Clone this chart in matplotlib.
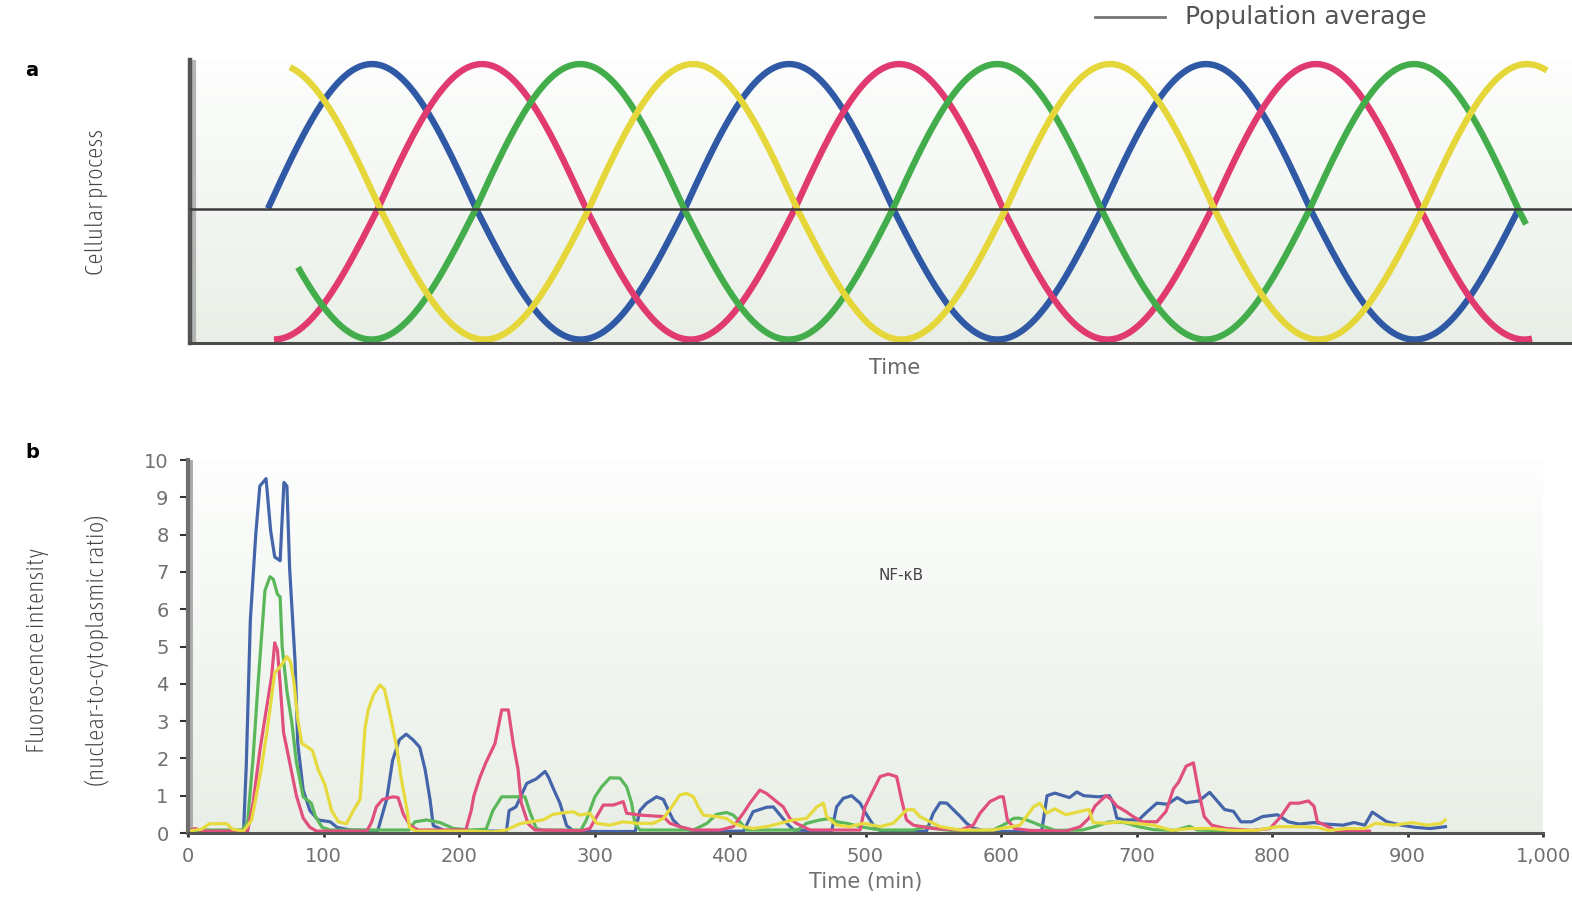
import numpy as np
import matplotlib
matplotlib.use("Agg")
import matplotlib.pyplot as plt
from matplotlib import font_manager as fm
from matplotlib.colors import LinearSegmentedColormap

# pick a condensed face for the axis titles if one is installed
cond = [f for f in fm.fontManager.ttflist
        if ('Condensed' in f.fname or 'Narrow' in f.fname) and 'Bold' not in f.fname
        and 'Italic' not in f.fname and 'Oblique' not in f.fname]
cond.sort(key=lambda f: ('Light' not in f.fname, 'ExtraCondensed' in f.fname, f.fname))
narrow = fm.FontProperties(fname=cond[0].fname) if cond else fm.FontProperties(family='DejaVu Sans')

# ---- panel a: schematic oscillations (time units are arbitrary) ----
period_a = 417
trough_a = 0.9
# start, end, time of first peak
blue_a = (78, 1329, 182)
red_a = (84, 1342, 292)
green_a = (108, 1336, 390)
yellow_a = (100, 1357, 86)

# ---- panel b: NF-kB traces, (time in min, nuclear/cytoplasmic ratio) ----
blue_b = [(0, 0.05), (20, 0.05), (41, 0.05), (43, 1.8), (46, 5.7), (50, 8.0), (53, 9.3), (57.6, 9.5),
          (61, 8.1), (64, 7.4), (68, 7.3), (70.8, 9.4), (73, 9.3), (75, 7.1), (79, 4.6), (81, 2.4),
          (85, 1.15), (90, 0.6), (96, 0.35), (105, 0.3), (110, 0.15), (120, 0.08), (140, 0.06),
          (146.6, 0.9), (151, 1.95), (156, 2.5), (161, 2.65), (166, 2.5), (171, 2.3), (175, 1.7),
          (178.6, 0.9), (181, 0.2), (190, 0.05), (235, 0.05), (237, 0.6), (242, 0.7), (250, 1.33),
          (257, 1.45), (263.5, 1.65), (266, 1.5), (269.5, 1.2), (274.5, 0.8), (279.4, 0.2), (285, 0.04),
          (330, 0.04), (333.5, 0.6), (338.5, 0.8), (345.8, 0.97), (350.8, 0.9), (354.4, 0.62),
          (358, 0.35), (363, 0.17), (373, 0.04), (410, 0.05), (417, 0.57), (427, 0.69), (432, 0.7),
          (437, 0.48), (442, 0.26), (447, 0.08), (475, 0.05), (478.7, 0.7), (483.6, 0.93),
          (489.7, 1.0), (496, 0.8), (501, 0.48), (506, 0.2), (512, 0.04), (545, 0.05), (550, 0.53),
          (555, 0.81), (560, 0.8), (565, 0.62), (570, 0.44), (574.6, 0.26), (579.5, 0.13), (590, 0.04),
          (630, 0.04), (634, 1.0), (639.7, 1.07), (650.5, 0.95), (656, 1.1), (661, 1.0), (672, 0.97),
          (680, 1.0), (682.8, 0.8), (685.5, 0.4), (691, 0.35), (701.6, 0.35), (707, 0.54), (715, 0.8),
          (723, 0.77), (730, 0.95), (736.6, 0.81), (746, 0.86), (754, 1.09), (759.5, 0.86),
          (765, 0.63), (771.6, 0.58), (777, 0.3), (785, 0.3), (793, 0.44), (804, 0.49), (812, 0.3),
          (820, 0.24), (831, 0.28), (839, 0.24), (852.4, 0.21), (860.5, 0.28), (868.5, 0.21),
          (874, 0.56), (879, 0.44), (884.7, 0.3), (895.5, 0.21), (906, 0.15), (917, 0.12), (928, 0.17)]

green_b = [(0, 0.08), (40, 0.08), (44, 0.3), (48, 2.0), (51.7, 4.0), (56.8, 6.5), (60.5, 6.87), (63, 6.8),
           (66, 6.4), (68, 6.33), (69.5, 5.0), (73, 3.8), (76.5, 3.0), (80, 1.9), (85, 0.97), (91, 0.8),
           (94, 0.45), (99, 0.15), (105, 0.08), (163, 0.08), (167.5, 0.3), (176, 0.35), (186, 0.28),
           (196, 0.12), (208, 0.08), (220, 0.1), (225, 0.6), (231.5, 0.97), (240, 0.97), (248.7, 0.97),
           (252, 0.6), (257, 0.12), (262, 0.08), (290, 0.08), (294, 0.35), (300.3, 0.97), (305.3, 1.24),
           (311.4, 1.48), (318.8, 1.47), (323.7, 1.24), (327.4, 0.8), (329.8, 0.26), (333.5, 0.08),
           (373, 0.08), (383, 0.26), (390, 0.5), (397.5, 0.55), (402.4, 0.48), (407.3, 0.3),
           (412.3, 0.08), (450, 0.08), (456.5, 0.26), (466.4, 0.35), (473.8, 0.39), (478.7, 0.3),
           (486, 0.26), (496, 0.17), (510.7, 0.08), (535.3, 0.08), (545, 0.17), (555, 0.1), (570, 0.04),
           (594.3, 0.08), (604, 0.26), (609, 0.39), (613, 0.4), (619, 0.35), (628.7, 0.21), (640, 0.07),
           (660, 0.08), (669.3, 0.17), (680, 0.3), (691, 0.28), (701.6, 0.17), (712.4, 0.09),
           (728.5, 0.07), (739, 0.18), (745, 0.08), (770, 0.05)]

pink_b = [(0, 0.05), (5, 0.12), (12, 0.05), (44, 0.05), (48, 0.8), (53, 2.2), (56, 2.9), (61.7, 4.2),
          (64, 5.1), (66, 4.9), (68, 4.0), (70.5, 2.7), (75, 1.9), (80, 1.0), (85, 0.4), (90, 0.15),
          (95, 0.05), (132, 0.05), (135.6, 0.3), (139, 0.7), (143.6, 0.9), (151.4, 0.97), (155, 0.95),
          (159, 0.5), (164, 0.2), (170, 0.08), (205, 0.08), (209, 0.6), (211, 1.0), (215.5, 1.5),
          (220, 1.9), (226.6, 2.4), (231.5, 3.3), (236.4, 3.3), (240, 2.4), (243.6, 1.7), (246, 0.8),
          (251, 0.25), (256, 0.08), (290, 0.06), (296.6, 0.12), (301.6, 0.44), (306.5, 0.75),
          (313.9, 0.75), (321.2, 0.84), (323.7, 0.53), (333.5, 0.48), (350.8, 0.44), (355.7, 0.26),
          (363, 0.17), (373, 0.08), (392.6, 0.08), (402.4, 0.17), (409.8, 0.53), (414.7, 0.8),
          (422, 1.15), (427, 1.06), (434.4, 0.84), (439.3, 0.7), (444.2, 0.39), (449, 0.26), (459, 0.08),
          (496, 0.08), (499.6, 0.7), (504.5, 1.06), (510.7, 1.51), (516.8, 1.58), (523, 1.51),
          (526.7, 0.88), (530.3, 0.35), (535.3, 0.21), (550, 0.12), (570, 0.08), (579.5, 0.21),
          (584.5, 0.53), (591.8, 0.84), (599, 0.97), (601.7, 0.97), (604.7, 0.35), (610, 0.12),
          (620.8, 0.07), (647.8, 0.05), (658.5, 0.17), (665, 0.4), (669.3, 0.72), (677.4, 1.0),
          (681.4, 0.9), (685.5, 0.72), (692, 0.58), (697.6, 0.44), (704.3, 0.3), (715, 0.3),
          (721.8, 0.58), (727.2, 1.18), (731.2, 1.37), (736.6, 1.79), (742, 1.88), (746, 1.09),
          (750, 0.44), (755.5, 0.21), (766, 0.12), (785, 0.07), (798.5, 0.12), (806.6, 0.44),
          (813.3, 0.8), (820, 0.8), (826.8, 0.86), (831, 0.72), (833.5, 0.3), (839, 0.21), (847, 0.07),
          (872, 0.05)]

yellow_b = [(0, 0.05), (10, 0.1), (16, 0.25), (28.5, 0.25), (33, 0.1), (41, 0.05), (47, 0.35), (54, 1.7),
            (58.6, 2.8), (64, 4.3), (69, 4.5), (73, 4.73), (75.5, 4.6), (78, 4.1), (81, 3.05), (84, 2.4),
            (88.5, 2.3), (92, 2.2), (96, 1.7), (101, 1.3), (106, 0.6), (111, 0.3), (117, 0.25), (122, 0.6),
            (127, 0.9), (130.6, 2.8), (133, 3.3), (136.8, 3.7), (141.7, 3.97), (145, 3.85), (149, 3.2),
            (154, 2.3), (157.4, 1.45), (161, 0.75), (163.5, 0.15), (168, 0.05), (210, 0.05), (225, 0.03),
            (235, 0.08), (245, 0.25), (253, 0.3), (262, 0.35), (269.5, 0.5), (279, 0.55), (284.3, 0.57),
            (289, 0.48), (296.6, 0.53), (301.6, 0.26), (311.4, 0.21), (321.2, 0.3), (331, 0.26),
            (343.4, 0.26), (350.8, 0.39), (357, 0.7), (363, 1.02), (368, 1.06), (373, 0.97), (376.6, 0.7),
            (380.3, 0.48), (390, 0.44), (397.5, 0.39), (402.4, 0.26), (409.8, 0.17), (417, 0.12),
            (427, 0.17), (437, 0.26), (446.7, 0.35), (456.5, 0.39), (464, 0.7), (469, 0.8), (471.3, 0.44),
            (478.7, 0.21), (488.5, 0.17), (498.4, 0.26), (510.7, 0.17), (520.5, 0.26), (530.3, 0.62),
            (535.3, 0.63), (540, 0.44), (545, 0.35), (555, 0.17), (570, 0.08), (594.3, 0.08), (614, 0.21),
            (624, 0.7), (628.7, 0.8), (633.6, 0.53), (639.7, 0.65), (647.8, 0.49), (658.5, 0.58),
            (665, 0.63), (668, 0.28), (677.4, 0.26), (688, 0.3), (699, 0.26), (712.4, 0.21), (726, 0.07),
            (739.3, 0.12), (755.5, 0.12), (770, 0.07), (788, 0.07), (804, 0.17), (820, 0.17),
            (833.5, 0.15), (841.6, 0.07), (855, 0.12), (868.5, 0.12), (876.6, 0.26), (890, 0.21),
            (903.6, 0.28), (914.3, 0.21), (925, 0.26), (927.8, 0.35)]

x_ticks = [0, 100, 200, 300, 400, 500, 600, 700, 800, 900, 1000]
x_labels = ['0', '100', '200', '300', '400', '500', '600', '700', '800', '900', '1,000']
y_ticks = list(range(0, 11))

BLUE, PINK, GREEN, YELLOW = '#2f58a5', '#e03a70', '#42ad4a', '#e5d63a'
BLUE_B, PINK_B, GREEN_B, YELLOW_B = '#4565aa', '#e04f7e', '#5bb85a', '#e6da3e'

W, H = 1572, 897
fig = plt.figure(figsize=(W / 100, H / 100), dpi=100)


def box(l, t, r, b):
    return [l / W, 1 - b / H, (r - l) / W, (b - t) / H]


bg = LinearSegmentedColormap.from_list('bg', ['#fdfefd', '#e9efe7'])


def gradient(ax, x0, x1, y0, y1):
    ax.imshow(np.linspace(0, 1, 256)[:, None], extent=(x0, x1, y0, y1), origin='upper',
              aspect='auto', cmap=bg, zorder=0, interpolation='bicubic')
    ax.set_xlim(x0, x1)
    ax.set_ylim(y0, y1)


# ---------------- panel a ----------------
axa = fig.add_axes(box(190, 60, 1572, 343))
gradient(axa, 0, 1382, -0.924, 1.028)
for (start, end, peak), col in [(blue_a, BLUE), (red_a, PINK), (green_a, GREEN), (yellow_a, YELLOW)]:
    t = np.linspace(start, end, 800)
    y = np.cos(2 * np.pi * (t - peak) / period_a)
    y = np.where(y < 0, y * trough_a, y)
    axa.plot(t, y, color=col, lw=4.6, solid_capstyle='butt', zorder=2)
axa.axhline(0, color='#3c3c3c', lw=1.8, zorder=3)
axa.set_xticks([])
axa.set_yticks([])
for s in ['top', 'right']:
    axa.spines[s].set_visible(False)
axa.spines['left'].set_color('#555555')
axa.spines['left'].set_linewidth(3.2)
axa.spines['bottom'].set_color('#4a4a4a')
axa.spines['bottom'].set_linewidth(2.2)
axa.axvline(4, color='#b5b5b5', lw=3, zorder=1)

fig.text(25 / W, 1 - 70 / H, 'a', fontsize=14, fontweight='bold', ha='left', va='center')
fig.text(97 / W, 1 - 202 / H, 'Cellular process', rotation=90, fontproperties=narrow, fontsize=18,
         color='#444444', ha='center', va='center')
fig.text(895 / W, 1 - 368 / H, 'Time', fontsize=15, color='#666666', ha='center', va='center')

# legend
fig.add_artist(plt.Line2D([1095 / W, 1165 / W], [1 - 17 / H, 1 - 17 / H], color='#777777', lw=2,
                          transform=fig.transFigure))
fig.text(1185 / W, 1 - 17 / H, 'Population average', fontsize=18, color='#555555',
         ha='left', va='center')

# ---------------- panel b ----------------
axb = fig.add_axes(box(188, 460, 1543, 833))
gradient(axb, 0, 1000, 0, 10)
for data, col in [(blue_b, BLUE_B), (green_b, GREEN_B), (pink_b, PINK_B), (yellow_b, YELLOW_B)]:
    tt, vv = np.array(data).T
    axb.plot(tt, vv, color=col, lw=2.3, zorder=2, clip_on=False)

axb.set_xticks(x_ticks)
axb.set_xticklabels(x_labels)
axb.set_yticks(y_ticks)
axb.tick_params(axis='x', length=3, width=2, color='#333333', pad=7, labelsize=14,
                labelcolor='#707070')
axb.tick_params(axis='y', length=6, width=1.5, color='#333333', pad=8, labelsize=14,
                labelcolor='#707070')
for s in ['top', 'right']:
    axb.spines[s].set_visible(False)
axb.spines['left'].set_color('#6e6e6e')
axb.spines['left'].set_linewidth(3)
axb.spines['bottom'].set_color('#555555')
axb.spines['bottom'].set_linewidth(2.2)
axb.axvline(2.5, color='#ababab', lw=2.8, zorder=1)

axb.text(0.526, 0.69, 'NF-κB', transform=axb.transAxes, fontsize=11, color='#444444',
         ha='center', va='center')

fig.text(25 / W, 1 - 452 / H, 'b', fontsize=14, fontweight='bold', ha='left', va='center')
fig.text(38 / W, 1 - 650 / H, 'Fluorescence intensity', rotation=90, fontproperties=narrow,
         fontsize=18, color='#444444', ha='center', va='center')
fig.text(97 / W, 1 - 650 / H, '(nuclear-to-cytoplasmic ratio)', rotation=90, fontproperties=narrow,
         fontsize=18, color='#444444', ha='center', va='center')
fig.text(866 / W, 1 - 882 / H, 'Time (min)', fontsize=15, color='#707070', ha='center', va='center')

fig.savefig('out.png', dpi=100)
